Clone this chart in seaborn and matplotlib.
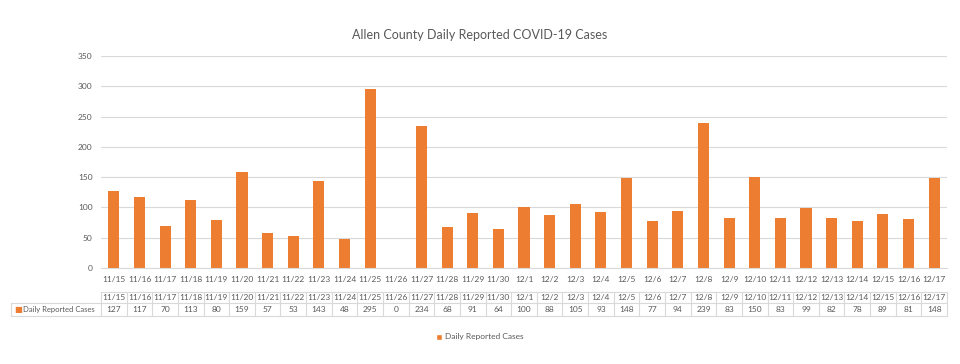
import matplotlib
matplotlib.use("Agg")
import matplotlib.pyplot as plt
from matplotlib.patches import Patch
from matplotlib.ticker import FixedLocator
import seaborn as sns
import pandas as pd

dates = ["11/15", "11/16", "11/17", "11/18", "11/19", "11/20", "11/21", "11/22",
         "11/23", "11/24", "11/25", "11/26", "11/27", "11/28", "11/29", "11/30",
         "12/1", "12/2", "12/3", "12/4", "12/5", "12/6", "12/7", "12/8", "12/9",
         "12/10", "12/11", "12/12", "12/13", "12/14", "12/15", "12/16", "12/17"]
cases = [127, 117, 70, 113, 80, 159, 57, 53, 143, 48, 295, 0, 234, 68, 91, 64,
         100, 88, 105, 93, 148, 77, 94, 239, 83, 150, 83, 99, 82, 78, 89, 81, 148]
series_name = "Daily Reported Cases"
title = "Allen County Daily Reported COVID-19 Cases"

BAR = "#ED7D31"
TXT = "#595959"
GRID = "#D9D9D9"

sns.set_style("white")
plt.rcParams["font.family"] = ["Lato", "DejaVu Sans"]

df = pd.DataFrame({"date": dates, "cases": cases})

fig = plt.figure(figsize=(9.6, 3.64), dpi=100)
ax = fig.add_axes([101 / 960, 1 - 268 / 364, 846 / 960, 212 / 364])

sns.barplot(data=df, x="date", y="cases", order=dates, color=BAR, width=0.43,
            saturation=1, linewidth=0, ax=ax)

n = len(dates)
ax.set_xlim(-0.5, n - 0.5)
ax.set_ylim(0, 350)
ax.set_yticks(range(0, 351, 50))
ax.yaxis.grid(True, color=GRID, linewidth=0.8)
ax.set_axisbelow(True)
ax.set_xlabel("")
ax.set_ylabel("")
for s in ["left", "right", "top"]:
    ax.spines[s].set_visible(False)
ax.spines["bottom"].set_color(GRID)
ax.tick_params(axis="y", length=0, labelsize=6, labelcolor=TXT, pad=6)
ax.tick_params(axis="x", which="major", length=0, labelsize=6, labelcolor=TXT, pad=6)
ax.xaxis.set_minor_locator(FixedLocator([i - 0.5 for i in range(n + 1)]))
ax.tick_params(axis="x", which="minor", length=4, color=GRID, width=0.8)

fig.text(0.5, 1 - 35 / 364, title, ha="center", va="center", fontsize=9,
         color=TXT)

# data table below the axis
tr = ax.get_xaxis_transform()
y_top, y_mid, y_bot = -0.113, -0.165, -0.226
x_left = -0.5 - 90 / (846 / n)
lk = dict(color=GRID, linewidth=0.8, clip_on=False, transform=tr)
ax.plot([-0.5, n - 0.5], [y_top, y_top], **lk)
ax.plot([x_left, n - 0.5], [y_mid, y_mid], **lk)
ax.plot([x_left, n - 0.5], [y_bot, y_bot], **lk)
ax.plot([x_left, x_left], [y_mid, y_bot], **lk)
for i in range(n + 1):
    ax.plot([i - 0.5, i - 0.5], [y_top, y_bot], **lk)
for i, (d, v) in enumerate(zip(dates, cases)):
    ax.text(i, (y_top + y_mid) / 2, d, ha="center", va="center", fontsize=6,
            color=TXT, transform=tr, clip_on=False)
    ax.text(i, (y_mid + y_bot) / 2, str(v), ha="center", va="center", fontsize=6,
            color=TXT, transform=tr, clip_on=False)
ax.text(x_left + 0.12, (y_mid + y_bot) / 2, "\u25A0", ha="left", va="center",
        fontsize=6, color=BAR, transform=tr, clip_on=False, family="DejaVu Sans")
ax.text(x_left + 0.45, (y_mid + y_bot) / 2, series_name, ha="left", va="center",
        fontsize=5.5, color=TXT, transform=tr, clip_on=False)

fig.legend(handles=[Patch(facecolor=BAR, label=series_name)], loc="center",
           bbox_to_anchor=(0.5, 1 - 337 / 364), frameon=False, fontsize=6,
           labelcolor=TXT, handlelength=0.7, handleheight=0.7, handletextpad=0.4)

fig.savefig("out.png", dpi=100)
